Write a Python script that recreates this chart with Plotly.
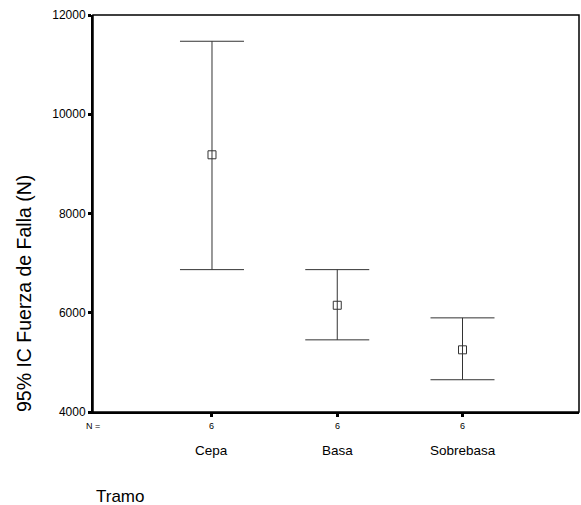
import plotly.graph_objects as go

categories = ["Cepa", "Basa", "Sobrebasa"]
n_values = [6, 6, 6]
means = [9183, 6151, 5253]
upper = [11471, 6869, 5897]
lower = [6869, 5454, 4650]
y_ticks = [4000, 6000, 8000, 10000, 12000]
y_tick_labels = [str(v) for v in y_ticks]

FONT = "Arial, Liberation Sans, sans-serif"
LINE = "#333333"

xpos = list(range(1, len(categories) + 1))
err_plus = [u - m for u, m in zip(upper, means)]
err_minus = [m - l for m, l in zip(means, lower)]

fig = go.Figure()
fig.add_trace(go.Scatter(
    x=xpos, y=means, mode="markers",
    marker=dict(symbol="square-open", size=8, color=LINE, line=dict(width=1, color=LINE)),
    error_y=dict(type="data", symmetric=False, array=err_plus, arrayminus=err_minus,
                 color=LINE, thickness=1, width=32),
    showlegend=False, hoverinfo="skip",
))

annotations = []
for x, n, c in zip(xpos, n_values, categories):
    annotations.append(dict(x=x, y=0, xref="x", yref="paper", text=str(n), showarrow=False,
                            yanchor="middle", xanchor="center", yshift=-14,
                            font=dict(family=FONT, size=9, color="black")))
    annotations.append(dict(x=x, y=0, xref="x", yref="paper", text=c, showarrow=False,
                            yanchor="middle", xanchor="center", yshift=-38,
                            font=dict(family=FONT, size=13.5, color="black")))
annotations.append(dict(x=0, y=0, xref="paper", yref="paper", text="N =", showarrow=False,
                        yanchor="middle", xanchor="center", yshift=-14,
                        font=dict(family=FONT, size=9, color="black")))
annotations.append(dict(x=0, y=0, xref="paper", yref="paper", text="Tramo", showarrow=False,
                        yanchor="middle", xanchor="left", xshift=1, yshift=-84,
                        font=dict(family=FONT, size=17, color="black")))
annotations.append(dict(x=0, y=(412 - 294) / 397, xref="paper", yref="paper",
                        text="95% IC Fuerza de Falla (N)", showarrow=False, textangle=-90,
                        yanchor="middle", xanchor="center", xshift=-69,
                        font=dict(family=FONT, size=19.5, color="black")))

fig.update_layout(
    width=581, height=505,
    margin=dict(l=93, r=2, t=15, b=93),
    paper_bgcolor="white", plot_bgcolor="white",
    font=dict(family=FONT, color="black"),
    xaxis=dict(range=[0.05, 3.93], tickvals=xpos, showticklabels=False,
               ticks="outside", ticklen=3, tickwidth=3, tickcolor="black",
               showline=True, linecolor="black", linewidth=2, showgrid=False, zeroline=False),
    yaxis=dict(range=[4000, 12000], tickvals=y_ticks, ticktext=y_tick_labels,
               ticks="outside", ticklen=3, tickwidth=3,
               tickcolor="black", tickfont=dict(family=FONT, size=12, color="black"),
               showline=True, linecolor="black", linewidth=2, showgrid=False, zeroline=False),
    annotations=annotations,
    shapes=[dict(type="rect", xref="paper", yref="paper", x0=0, y0=0, x1=1, y1=1,
                 line=dict(color="black", width=1.5), layer="above")],
)

fig.write_html(
    "out.html",
    config={"displayModeBar": False},
    post_script="document.body.style.margin='0';document.body.style.overflow='hidden';",
)
